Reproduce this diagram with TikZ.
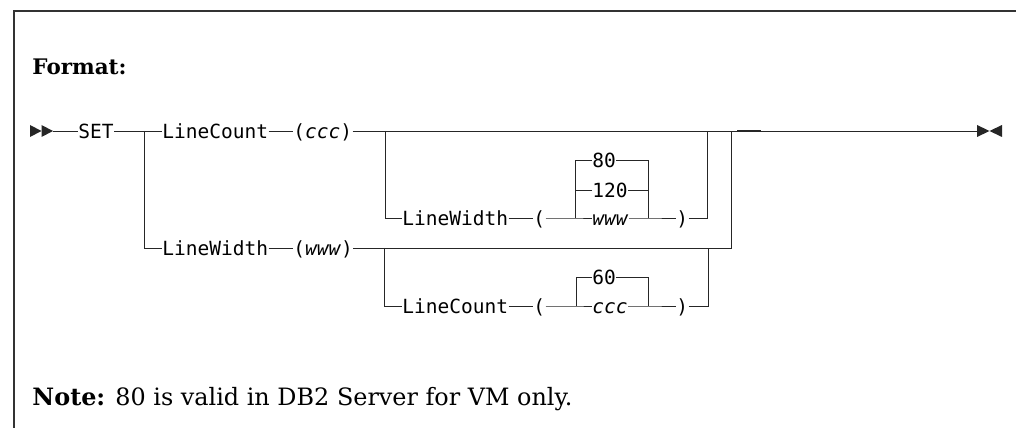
\documentclass[tikz,border=0pt]{standalone}
\usepackage{fontspec}
\setmainfont{DejaVu Serif}
\setmonofont{DejaVu Sans Mono}
\usetikzlibrary{positioning}

\begin{document}
\begin{tikzpicture}[x=0.02cm, y=-0.02cm, line width=0.55pt, draw=black!85,
    kw/.style={font=\ttfamily\fontsize{11.1}{13}\selectfont, inner sep=0pt, anchor=west, text height=8.1pt, text depth=0pt},
    tip/.style={fill=black!85}]
    \useasboundingbox (0,0) rectangle (1016,428);

    % Frame (top and left only)
    \draw[black!80, line width=0.6pt] (1016,11) -- (14,11) -- (14,428);

    % Heading and note
    \node[anchor=base west, inner sep=0pt, font=\fontsize{12.2}{14}\selectfont] (fmt) at (32,75) {\textbf{Format:}};
    \node[anchor=base west, inner sep=0pt, font=\fontsize{13.6}{16}\selectfont] (note) at (32,405) {\textbf{Note:} 80 is valid in DB2 Server for VM only.};

    % Start and end marks
    \fill[tip] (30,125) -- (41.5,131) -- (30,137) -- cycle;
    \fill[tip] (41.5,125) -- (53,131) -- (41.5,137) -- cycle;
    \fill[tip] (977,125) -- (989.5,131) -- (977,137) -- cycle;
    \fill[tip] (1002,125) -- (989.5,131) -- (1002,137) -- cycle;
    \coordinate (start) at (53,131);
    \coordinate (stop) at (977,131);

    % Junctions
    \coordinate (j1) at (144,131);
    \coordinate (j2) at (385,131);
    \coordinate (j3) at (707,131);
    \coordinate (j4) at (731,131);
    \coordinate (j5) at (384,248);
    \coordinate (j6) at (708,248);
    \coordinate (c1) at (575,218);
    \coordinate (c2) at (648,218);
    \coordinate (c3) at (576,306);
    \coordinate (c4) at (648,306);

    % Keywords
    \node[kw] (set) at (78,131) {SET};
    \node[kw] (lcA) at (162,131) {LineCount};
    \node[kw] (cccA) at (293,131) {(\textit{ccc})};
    \node[kw] (lwB) at (162,248) {LineWidth};
    \node[kw] (wwwB) at (293,248) {(\textit{www})};

    % Optional LineWidth
    \node[kw] (lwOpt) at (402,218) {LineWidth};
    \node[kw] (lpW) at (533,218) {(};
    \node[kw] (n80) at (592,160) {80};
    \node[kw] (n120) at (592,190) {120};
    \node[kw] (wwwOpt) at (592,218) {\textit{www}};
    \node[kw] (rpW) at (676,218) {)};

    % Optional LineCount
    \node[kw] (lcOpt) at (402,306) {LineCount};
    \node[kw] (lpC) at (533,306) {(};
    \node[kw] (n60) at (592,277) {60};
    \node[kw] (cccOpt) at (592,306) {\textit{ccc}};
    \node[kw] (rpC) at (676,306) {)};

    % Main line
    \draw (start) -- (set.west);
    \draw (set.east) -- (lcA.west);
    \draw (lcA.east) -- (cccA.west);
    \draw (cccA.east) -- (stop);
    \draw[line width=1.2pt] (737,131) -- (761,131);

    % First branch: optional LineWidth
    \draw (j2) |- (lwOpt.west);
    \draw (lwOpt.east) -- (lpW.west);
    \draw (lpW.east) -- (c1) -- (wwwOpt.west);
    \draw (n80.west) -| (c1);
    \draw (n120.west) -- (n120.west -| c1);
    \draw (n80.east) -| (c2);
    \draw (n120.east) -- (n120.east -| c2);
    \draw (wwwOpt.east) -- (c2) -- (rpW.west);
    \draw (rpW.east) -| (j3);

    % Second branch
    \draw (j1) |- (lwB.west);
    \draw (lwB.east) -- (wwwB.west);
    \draw (wwwB.east) -| (j4);
    \draw (j5) |- (lcOpt.west);
    \draw (lcOpt.east) -- (lpC.west);
    \draw (lpC.east) -- (c3) -- (cccOpt.west);
    \draw (n60.west) -| (c3);
    \draw (n60.east) -| (c4);
    \draw (cccOpt.east) -- (c4) -- (rpC.west);
    \draw (rpC.east) -| (j6);
\end{tikzpicture}
\end{document}
